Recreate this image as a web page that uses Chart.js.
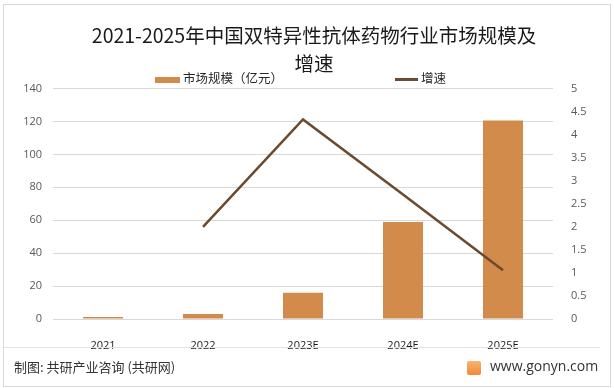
<!DOCTYPE html>
<html>
<head>
<meta charset="utf-8">
<script src="https://cdn.jsdelivr.net/npm/chart.js@4.4.0/dist/chart.umd.min.js"></script>
<style>
  body { margin: 0; background: #fff; font-family: "Noto Sans CJK SC", sans-serif; }
  #wrap { position: relative; width: 614px; height: 388px; overflow: hidden; }
  #frame { position: absolute; left: 3px; top: 4px; width: 606px; height: 381px; border: 1px solid #d9d9d9; }
  #sep { position: absolute; left: 4px; top: 347px; width: 596px; height: 1px; background: #e3e3e3; }
  canvas { position: absolute; left: 0; top: 0; }
  .lg { position: absolute; top: 70px; font-size: 12.5px; color: #262626; line-height: 16px; white-space: nowrap; }
  .lg i { display: inline-block; vertical-align: middle; margin-right: 3px; }
  #src { position: absolute; left: 14px; top: 357px; font-size: 13px; color: #333; }
  #site { position: absolute; left: 490px; top: 356px; font-size: 14px; color: #333; font-family: "Open Sans", sans-serif; }
  #logo { position: absolute; left: 467px; top: 361px; width: 14px; height: 14px; border-radius: 2px;
          background: linear-gradient(#f7b36b, #f08a3c); }
</style>
</head>
<body>
<div id="wrap">
  <div id="frame"></div>
  <canvas id="chart" width="614" height="388"></canvas>
  <div class="lg" style="left:155px"><i style="width:25px;height:6px;background:#d38b4c"></i>市场规模（亿元）</div>
  <div class="lg" style="left:395px"><i style="width:23px;height:3px;background:#6b4a2f"></i>增速</div>
  <div id="sep"></div>
  <div id="src">制图: 共研产业咨询 (共研网)</div>
  <div id="logo"></div>
  <div id="site">www.gonyn.com</div>
</div>
<script>
let years = ['2021', '2022', '2023E', '2024E', '2025E'];
let marketSize = [1.2, 3.0, 16, 59, 120.6];
let growth = [null, 2.0, 4.33, 2.7, 1.06];

let ctx = document.getElementById('chart').getContext('2d');
let tickFont = { family: 'Open Sans', size: 11 };

let chart = new Chart(ctx, {
    data: {
        labels: years,
        datasets: [{
            type: 'line',
            label: '增速',
            data: growth,
            yAxisID: 'y1',
            borderColor: '#6b4a2f',
            borderWidth: 2.5,
            pointRadius: 0,
            tension: 0
        }, {
            type: 'bar',
            label: '市场规模（亿元）',
            data: marketSize,
            yAxisID: 'y',
            backgroundColor: '#d38b4c',
            categoryPercentage: 1,
            barPercentage: 0.4
        }]
    },
    options: {
        responsive: false,
        animation: false,
        layout: { padding: { top: 21, left: 14, right: 0, bottom: 39 } },
        plugins: {
            legend: { display: false },
            tooltip: { enabled: false },
            title: {
                display: true,
                text: ['2021-2025年中国双特异性抗体药物行业市场规模及', '增速'],
                color: '#1a1a1a',
                font: { family: 'Noto Sans CJK SC', size: 19.5, weight: 'normal', lineHeight: 1.45 },
                padding: { top: 0, bottom: 11 }
            }
        },
        scales: {
            x: {
                grid: { display: false },
                border: { display: false },
                ticks: { color: '#1a1a1a', font: tickFont, padding: 12 },
                afterFit: function (scale) { scale.height = 30; }
            },
            y: {
                position: 'left',
                min: 0, max: 140,
                ticks: { stepSize: 20, color: '#595959', font: tickFont, padding: 11 },
                grid: { color: '#d9d9d9', drawTicks: false },
                border: { display: false },
                afterFit: function (scale) { scale.width = 39; }
            },
            y1: {
                position: 'right',
                min: 0, max: 5,
                ticks: {
                    stepSize: 0.5, color: '#595959', font: tickFont, padding: 10,
                    callback: function (v) { return String(v); }
                },
                grid: { display: false },
                border: { display: false },
                afterFit: function (scale) { scale.width = 61; }
            }
        }
    }
});
</script>
</body>
</html>
